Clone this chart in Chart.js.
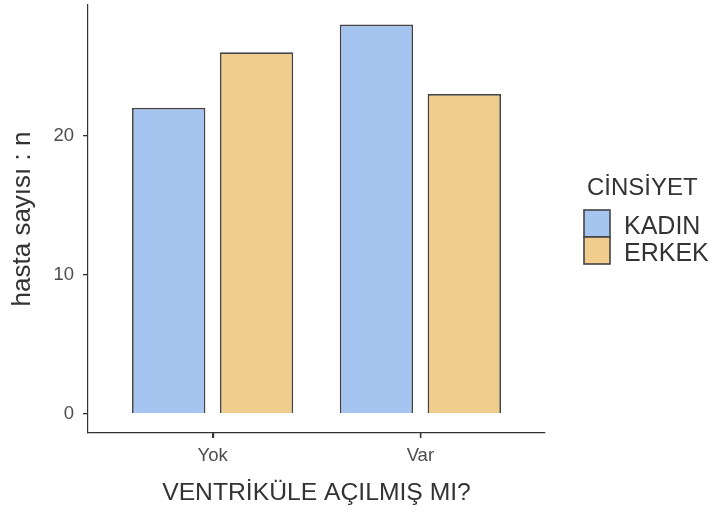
<!DOCTYPE html>
<html>
<head>
<meta charset="utf-8">
<script src="https://cdn.jsdelivr.net/npm/chart.js@4"></script>
<style>
  html, body { margin: 0; padding: 0; background: #fff; }
  #wrap { width: 710px; height: 516px; }
</style>
</head>
<body>
<div id="wrap"><canvas id="chart" width="710" height="516"></canvas></div>
<script>
const categories = ["Yok", "Var"];
const groups = ["KADIN", "ERKEK"];
const kadinCounts = [22, 28];
const erkekCounts = [26, 23];
const yTicks = [0, 10, 20];

const fills = ["#A6C4F0", "#F0CC8D"];
const edge = "#444";
const font = "'Liberation Sans', Arial, sans-serif";

function toPoints(values) {
    return values.map((v, i) => ({ x: i + 1, y: v }));
}

// legend drawn by hand, ggplot style (title + touching keys)
// also the small x tick marks under the axis
const sideLegend = {
    id: "sideLegend",
    afterDraw(chart) {
        const ctx = chart.ctx;
        const xs = chart.scales.x;
        ctx.save();
        ctx.strokeStyle = "#333";
        ctx.lineWidth = 1.3;
        categories.forEach((c, i) => {
            const px = Math.round(xs.getPixelForValue(i + 1)) + 0.5;
            ctx.beginPath();
            ctx.moveTo(px, xs.top);
            ctx.lineTo(px, xs.top + 5);
            ctx.stroke();
        });

        ctx.fillStyle = "#333";
        ctx.font = "24px " + font;
        ctx.textBaseline = "alphabetic";
        ctx.fillText("CİNSİYET", 587, 195);
        chart.data.datasets.forEach((ds, i) => {
            const top = 210 + i * 27;
            ctx.fillStyle = ds.backgroundColor;
            ctx.fillRect(584, top, 26, 27);
            ctx.strokeStyle = edge;
            ctx.lineWidth = 1.6;
            ctx.strokeRect(584, top, 26, 27);
            ctx.fillStyle = "#333";
            ctx.font = "25px " + font;
            ctx.fillText(ds.label, 624, top + 24);
        });
        ctx.restore();
    }
};

const barStyle = {
    borderColor: edge,
    borderWidth: 1.7,
    categoryPercentage: 0.846,
    barPercentage: 0.835
};

new Chart(document.getElementById("chart"), {
    type: "bar",
    data: {
        datasets: [
            Object.assign({ label: groups[0], data: toPoints(kadinCounts), backgroundColor: fills[0] }, barStyle),
            Object.assign({ label: groups[1], data: toPoints(erkekCounts), backgroundColor: fills[1] }, barStyle)
        ]
    },
    options: {
        responsive: false,
        animation: false,
        layout: { padding: { left: 0, top: 5, right: 165, bottom: 0 } },
        plugins: {
            legend: { display: false },
            tooltip: { enabled: false }
        },
        scales: {
            x: {
                type: "linear",
                min: 0.4,
                max: 2.6,
                offset: false,
                afterBuildTicks: scale => { scale.ticks = categories.map((c, i) => ({ value: i + 1 })); },
                afterFit: scale => { scale.height = 83; },
                ticks: {
                    callback: v => categories[v - 1],
                    color: "#4d4d4d",
                    font: { family: font, size: 18.5 },
                    padding: 7,
                    maxRotation: 0
                },
                grid: {
                    display: true, offset: false, drawOnChartArea: false, drawTicks: true,
                    tickLength: 5, color: "#333", tickColor: "#333", lineWidth: 1.3, tickWidth: 1.3
                },
                border: { display: true, color: "#333", width: 1.2 },
                title: {
                    display: true,
                    text: "VENTRİKÜLE AÇILMIŞ MI?",
                    color: "#333",
                    font: { family: font, size: 24.7 },
                    padding: { top: 0, bottom: 8 }
                }
            },
            y: {
                min: -1.4,
                max: 29.4,
                afterBuildTicks: scale => { scale.ticks = yTicks.map(v => ({ value: v })); },
                afterFit: scale => {
                    scale.width = 88;
                    scale.paddingTop = 0;
                    scale.paddingBottom = 0;
                },
                ticks: {
                    color: "#4d4d4d",
                    font: { family: font, size: 18.5 },
                    padding: 9
                },
                grid: {
                    display: true, drawOnChartArea: false, drawTicks: true,
                    tickLength: 5, color: "#333", tickColor: "#333", lineWidth: 1.3, tickWidth: 1.3
                },
                border: { display: true, color: "#333", width: 1.2 },
                title: {
                    display: true,
                    text: "hasta sayısı : n",
                    color: "#333",
                    font: { family: font, size: 26 },
                    padding: { top: 7, bottom: 0 }
                }
            }
        }
    },
    plugins: [sideLegend]
});
</script>
</body>
</html>
